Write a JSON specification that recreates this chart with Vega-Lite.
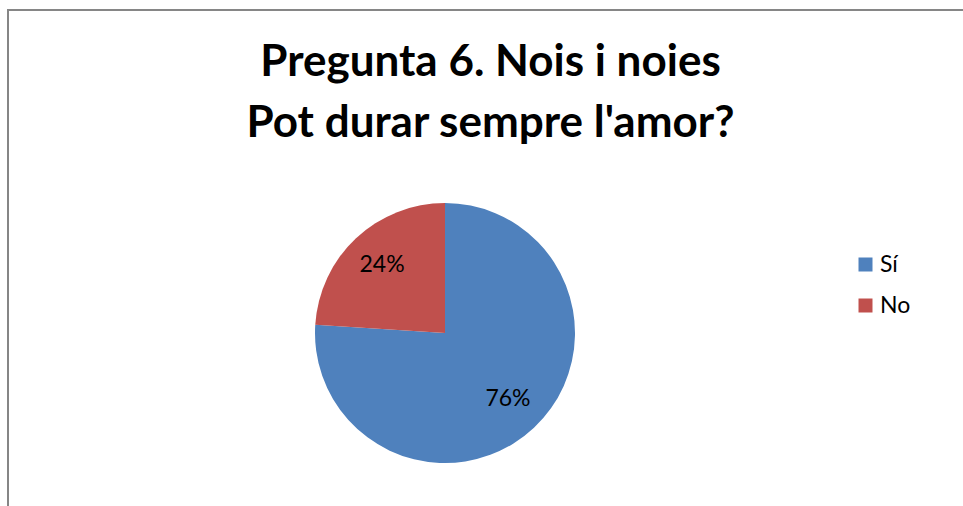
{
  "$schema": "https://vega.github.io/schema/vega-lite/v6.json",
  "width": 957,
  "height": 498,
  "autosize": "none",
  "padding": {"left": 8, "top": 10, "right": -2, "bottom": -2},
  "background": "white",
  "view": {"stroke": "#868686", "strokeWidth": 2, "fill": "white"},
  "title": {
    "text": ["Pregunta 6. Nois i noies", "Pot durar sempre l'amor?"],
    "font": "Lato",
    "fontSize": 44,
    "fontWeight": "bold",
    "color": "black",
    "anchor": "middle",
    "frame": "group",
    "dx": 4,
    "offset": -136,
    "lineHeight": 61
  },
  "data": {
    "values": [
      {"cat": "Sí", "pct": 0.76},
      {"cat": "No", "pct": 0.24}
    ]
  },
  "encoding": {
    "theta": {"field": "pct", "type": "quantitative", "stack": true},
    "order": {"field": "cat", "type": "nominal", "sort": "descending"},
    "color": {
      "field": "cat",
      "type": "nominal",
      "scale": {"domain": ["Sí", "No"], "range": ["#4F81BD", "#C0504D"]},
      "legend": {
        "title": null,
        "orient": "none",
        "legendX": 846,
        "legendY": 243,
        "symbolType": "square",
        "symbolSize": 196,
        "symbolStrokeWidth": 0,
        "symbolOpacity": 1,
        "labelFont": "Lato",
        "labelFontSize": 23,
        "labelColor": "black",
        "labelOffset": 3,
        "rowPadding": 17,
        "padding": 0
      }
    }
  },
  "layer": [
    {
      "mark": {"type": "arc", "radius": 130, "xOffset": -41.5, "yOffset": 74, "stroke": null}
    },
    {
      "mark": {"type": "text", "radius": 92, "xOffset": -41.5, "yOffset": 73, "font": "Lato", "fontSize": 23, "color": "black"},
      "encoding": {
        "text": {"field": "pct", "type": "quantitative", "format": ".0%"},
        "color": {"value": "black"}
      }
    }
  ],
  "config": {
    "view": {"stroke": "#868686", "strokeWidth": 2}
  }
}
